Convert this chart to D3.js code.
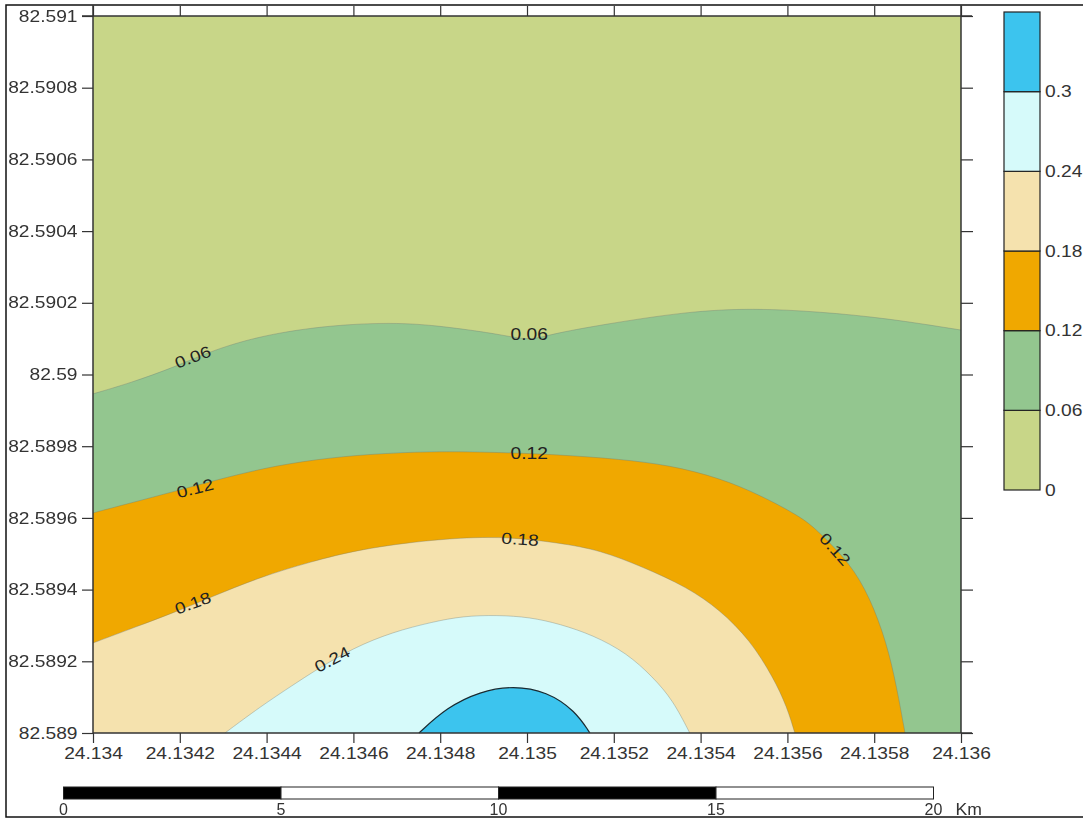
<!DOCTYPE html>
<html>
<head>
<meta charset="utf-8">
<script src="https://cdn.jsdelivr.net/npm/d3@7"></script>
<style>
html,body{margin:0;padding:0;background:#fff;overflow:hidden}
svg{display:block;filter:blur(0.45px)}
text{font-family:"Liberation Sans",Arial,sans-serif;font-size:16px;fill:#333}
</style>
</head>
<body>
<svg id="chart" width="1083" height="821"></svg>
<script>
// ---- data ----
const lonTicks = [24.134,24.1342,24.1344,24.1346,24.1348,24.135,24.1352,24.1354,24.1356,24.1358,24.136];
const lonLabels = ["24.134","24.1342","24.1344","24.1346","24.1348","24.135","24.1352","24.1354","24.1356","24.1358","24.136"];
const latTicks = [82.589,82.5892,82.5894,82.5896,82.5898,82.59,82.5902,82.5904,82.5906,82.5908,82.591];
const latLabels = ["82.589","82.5892","82.5894","82.5896","82.5898","82.59","82.5902","82.5904","82.5906","82.5908","82.591"];
const levels = [0,0.06,0.12,0.18,0.24,0.3,0.36];
const levelLabels = ["0","0.06","0.12","0.18","0.24","0.3",""];
const bandColors = ["#c8d688","#93c68f","#f0a800","#f5e2ae","#d6fafa","#3cc4ee"];
const scaleStops = [0,5,10,15,20];

const contour06 = [[24.134,82.589946],[24.134085,82.589976],[24.134189,82.590021],[24.134276,82.590068],[24.134392,82.59011],[24.134546,82.590138],[24.134707,82.590146],[24.134823,82.590132],[24.134938,82.590112],[24.135007,82.590094],[24.135053,82.590112],[24.135168,82.590138],[24.135369,82.590176],[24.135521,82.590185],[24.135675,82.590175],[24.135829,82.590157],[24.136,82.590124]];
const contour12 = [[24.134,82.589614],[24.134085,82.589641],[24.134194,82.589676],[24.134276,82.589703],[24.134392,82.589739],[24.134516,82.589764],[24.134638,82.589778],[24.134776,82.589786],[24.134938,82.589783],[24.135076,82.589776],[24.135214,82.589764],[24.135329,82.589747],[24.135445,82.589711],[24.135537,82.589664],[24.135636,82.5896],[24.135675,82.589558],[24.135744,82.589474],[24.13579,82.589379],[24.135829,82.589251],[24.135852,82.589128],[24.135871,82.589]];
const contour18 = [[24.134,82.589251],[24.134099,82.589296],[24.134189,82.589337],[24.134272,82.589379],[24.134385,82.589435],[24.1345,82.589477],[24.134615,82.589513],[24.134783,82.58954],[24.134938,82.58955],[24.135076,82.58953],[24.135168,82.58951],[24.135267,82.589463],[24.135369,82.589407],[24.135445,82.589343],[24.135514,82.589259],[24.135567,82.589156],[24.135599,82.589073],[24.135617,82.589]];
const contour24 = [[24.134304,82.589],[24.134385,82.589073],[24.134461,82.589134],[24.134514,82.589176],[24.134599,82.589237],[24.134691,82.589282],[24.134783,82.58931],[24.134852,82.589326],[24.134931,82.589329],[24.135007,82.589323],[24.135076,82.589304],[24.135152,82.589273],[24.13523,82.589223],[24.13529,82.589156],[24.135336,82.589092],[24.135375,82.589]];
const contour30 = [[24.134751,82.589],[24.134816,82.589072],[24.134892,82.589116],[24.134968,82.589132],[24.135046,82.589116],[24.135111,82.589062],[24.135145,82.589]];

const contourLabelText = ["0.06","0.06","0.12","0.12","0.12","0.18","0.18","0.24"];
const contourLabelLon = [24.13423,24.135005,24.134235,24.135005,24.13571,24.13423,24.134984,24.134551];
const contourLabelLat = [82.590049,82.590113,82.589683,82.589781,82.589513,82.589363,82.589541,82.589206];

// ---- layout ----
const svg = d3.select("#chart");
const X = d3.scaleLinear().domain([24.134,24.136]).range([93,961]);
const Y = d3.scaleLinear().domain([82.589,82.591]).range([733,16]);
const L = d3.scaleLinear().domain([0,0.36]).range([490,12]);
const S = d3.scaleLinear().domain([0,20]).range([63.5,933.5]);
const ink = "#333";
const stretch = 1.2;
const contourLine = d3.line().x(d=>X(d[0])).y(d=>Y(d[1])).curve(d3.curveBasis);
const [x0,x1] = X.domain(), [y0,y1] = Y.domain();

// frame
svg.append("rect").attr("x",6).attr("y",5).attr("width",1090).attr("height",812)
  .attr("fill","#fff").attr("stroke","#111").attr("stroke-width",1.5);

// filled bands
svg.append("rect").attr("x",X(x0)).attr("y",Y(y1)).attr("width",X(x1)-X(x0)).attr("height",Y(y0)-Y(y1)).attr("fill",bandColors[0]);
const contours = [contour06,contour12,contour18,contour24,contour30];
const closings = [[[x1,y0],[x0,y0]],[[x0,y0]],[[x0,y0]],[],[]];
contours.forEach((c,i)=>{
  const tail = closings[i].map(p=>"L"+X(p[0])+","+Y(p[1])).join("");
  svg.append("path").attr("d",contourLine(c)+tail+"Z").attr("fill",bandColors[i+1]);
});
// contour lines
contours.forEach((c,i)=>{
  svg.append("path").attr("d",contourLine(c)).attr("fill","none")
    .attr("stroke",i===4?"#1a2a30":"rgba(110,120,115,0.35)").attr("stroke-width",i===4?1.2:1);
});

// contour labels
const rotations = [-20,0,-14,0,48,-20,4,-28];
contourLabelText.forEach((t,i)=>{
  svg.append("text")
    .attr("transform",`translate(${X(contourLabelLon[i])},${Y(contourLabelLat[i])}) rotate(${rotations[i]}) scale(${stretch},1)`)
    .attr("text-anchor","middle").attr("dy","0.36em").style("fill","#222").text(t);
});

// axes
function styleAxis(g){
  g.selectAll("path.domain").attr("stroke",ink).attr("stroke-width",1.5);
  g.selectAll("line").attr("stroke",ink).attr("stroke-width",1.2);
}
const axisB = svg.append("g").attr("transform",`translate(0,${Y(y0)})`)
  .call(d3.axisBottom(X).tickValues(lonTicks).tickFormat((d,i)=>lonLabels[i]).tickSize(10).tickSizeOuter(0));
styleAxis(axisB);
axisB.selectAll("text").attr("transform",`scale(${stretch},1)`).attr("x",0).attr("y",26).attr("dy",0).style("font-size","16px").style("font-family","Liberation Sans").style("fill",ink);
axisB.select(".domain").attr("d",`M${X(x0)},0H972`);

const axisT = svg.append("g").attr("transform",`translate(0,${Y(y1)})`)
  .call(d3.axisTop(X).tickValues(lonTicks).tickFormat("").tickSize(10).tickSizeOuter(0));
styleAxis(axisT);
axisT.select(".domain").attr("d",`M82,0H972`);

const axisL = svg.append("g").attr("transform",`translate(${X(x0)},0)`)
  .call(d3.axisLeft(Y).tickValues(latTicks).tickFormat((d,i)=>latLabels[i]).tickSize(11).tickSizeOuter(0));
styleAxis(axisL);
axisL.selectAll("text").attr("transform",`scale(${stretch},1)`).attr("x",-15.5/stretch).style("font-size","16px").style("font-family","Liberation Sans").style("fill",ink);
axisL.select(".domain").attr("d",`M0,5V${Y(y0)}`);

const axisR = svg.append("g").attr("transform",`translate(${X(x1)},0)`)
  .call(d3.axisRight(Y).tickValues(latTicks).tickFormat("").tickSize(12).tickSizeOuter(0));
styleAxis(axisR);
axisR.select(".domain").attr("d",`M0,5V${Y(y0)}`);

// legend
const legendX = 1004, legendW = 36;
bandColors.forEach((c,i)=>{
  svg.append("rect").attr("x",legendX).attr("width",legendW)
    .attr("y",L(levels[i+1])).attr("height",L(levels[i])-L(levels[i+1]))
    .attr("fill",c).attr("stroke","#222").attr("stroke-width",1.2);
});
levels.forEach((v,i)=>{
  if(!levelLabels[i]) return;
  svg.append("text").attr("transform",`translate(${legendX+legendW+5},${L(v)}) scale(${stretch},1)`)
    .attr("dy","0.36em").text(levelLabels[i]);
});

// scale bar
d3.pairs(scaleStops).forEach(([a,b],i)=>{
  svg.append("rect").attr("x",S(a)).attr("width",S(b)-S(a)).attr("y",787).attr("height",12)
    .attr("fill",i%2?"#fff":"#000").attr("stroke","#222").attr("stroke-width",1);
});
scaleStops.forEach(v=>{
  svg.append("text").attr("transform",`translate(${S(v)},815)`)
    .attr("text-anchor","middle").text(v);
});
svg.append("text").attr("transform",`translate(${S(20)+22},815) scale(1.1,1)`).text("Km");
</script>
</body>
</html>
